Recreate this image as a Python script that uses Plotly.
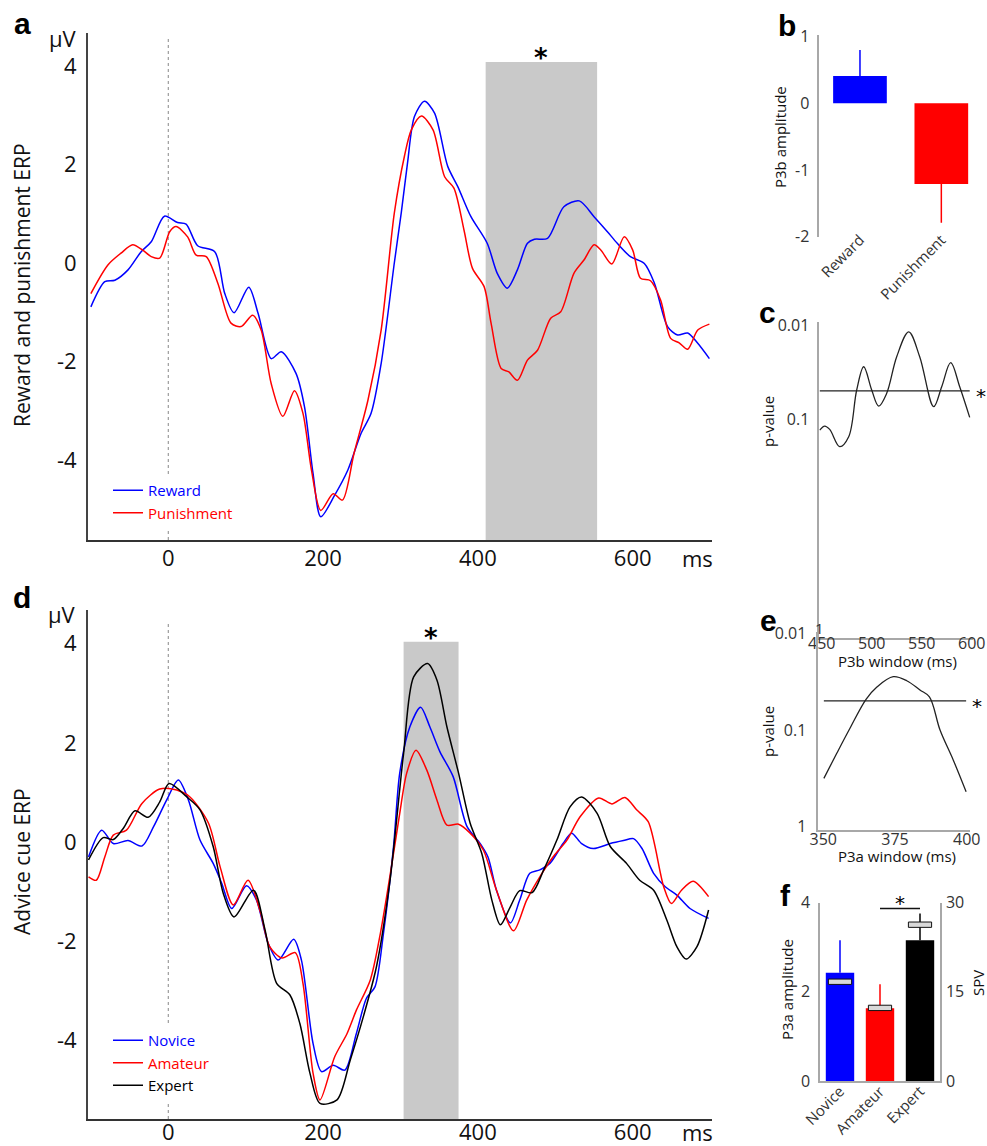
import plotly.graph_objects as go

W, H = 987, 1146
FONT = "Open Sans"

# ---------------- data ----------------
# Panel a: reward / punishment ERP (ms, µV)
reward_t = [-100, -82, -69, -52, -35, -22, -5, 12, 23, 38, 60, 73, 85, 104, 116, 133, 146, 165, 176, 187,
            197, 215, 232, 249, 262, 275, 292, 301, 309, 318, 331, 344, 361, 374, 391, 412, 425, 438, 451,
            464, 473, 490, 511, 531, 550, 567, 580, 597, 615, 628, 645, 658, 671, 684, 699]
reward_v = [-0.89, -0.38, -0.35, -0.14, 0.23, 0.43, 0.95, 0.82, 0.79, 0.35, 0.23, -0.62, -1.01, -0.49,
            -1.02, -1.94, -1.80, -2.24, -2.92, -4.27, -5.15, -4.71, -4.20, -3.46, -3.05, -2.04, 0.0, 1.02,
            2.02, 2.97, 3.28, 3.04, 1.96, 1.55, 0.94, 0.40, -0.21, -0.51, -0.14, 0.40, 0.48, 0.50, 1.14,
            1.26, 0.94, 0.64, 0.40, 0.13, -0.01, -0.41, -1.29, -1.46, -1.42, -1.63, -1.94]
punish_t = [-100, -78, -61, -46, -33, -22, -11, 2, 10, 25, 36, 49, 64, 81, 94, 109, 120, 133, 148, 163,
            174, 185, 197, 213, 225, 240, 258, 275, 292, 305, 314, 327, 342, 357, 369, 382, 393, 408, 417,
            430, 440, 451, 464, 477, 494, 507, 524, 537, 550, 559, 573, 589, 600, 610, 623, 636, 649, 660,
            671, 684, 699]
punish_v = [-0.62, -0.04, 0.20, 0.37, 0.26, 0.13, 0.10, 0.64, 0.74, 0.53, 0.16, 0.13, -0.41, -1.22, -1.29,
            -1.06, -1.36, -2.45, -3.11, -2.59, -3.05, -4.20, -5.02, -4.68, -4.81, -3.86, -2.78, -1.36, 1.01,
            2.16, 2.70, 2.98, 2.70, 1.75, 1.52, 0.67, -0.11, -0.48, -1.22, -2.14, -2.21, -2.38, -1.97, -1.77,
            -1.12, -0.99, -0.21, 0.06, 0.37, 0.26, -0.02, 0.53, 0.26, -0.31, -0.36, -0.75, -1.53, -1.62,
            -1.75, -1.36, -1.24]
P3B_WINDOW = [410, 554]
P3B_BOX_TOP = 4.08

# Panel b: P3b amplitude
b_cats = ["Reward", "Punishment"]
b_vals = [0.41, -1.21]
b_err = [0.39, 0.58]

# Panel c: p-value over P3b window
c_t = [448, 453, 458, 468, 477, 485, 492, 500, 507, 515, 525, 537, 548, 562, 570, 579, 588, 598]
c_p = [0.130, 0.118, 0.128, 0.195, 0.153, 0.0489, 0.0277, 0.0489, 0.0723, 0.0530, 0.0217, 0.0118,
       0.0217, 0.0735, 0.0451, 0.0251, 0.0451, 0.0953]
ALPHA = 0.05

# Panel d: advice cue ERP
novice_t = [-103, -86, -71, -52, -34, -19, -2, 13, 26, 41, 58, 69, 82, 101, 114, 129, 142, 162, 172, 187,
            198, 213, 228, 243, 256, 267, 278, 291, 299, 312, 326, 338, 351, 368, 386, 403, 413, 424, 442,
            454, 467, 480, 493, 510, 521, 534, 549, 571, 588, 601, 612, 627, 642, 657, 674, 698]
novice_v = [-0.30, 0.24, -0.03, 0.03, -0.08, 0.31, 0.85, 1.25, 0.85, 0.04, -0.43, -0.83, -1.34, -0.88,
            -1.17, -2.04, -2.38, -1.96, -2.38, -4.06, -4.63, -4.50, -4.60, -3.86, -3.15, -2.92, -1.84,
            -0.09, 1.39, 2.32, 2.72, 2.32, 1.82, 1.32, 0.31, -0.03, -0.30, -0.97, -1.63, -1.17, -0.63,
            -0.56, -0.43, -0.03, 0.18, -0.03, -0.13, -0.03, 0.03, 0.07, -0.13, -0.63, -0.90, -1.07, -1.34,
            -1.54]
amateur_t = [-103, -93, -82, -71, -54, -34, -11, 11, 28, 52, 67, 84, 103, 119, 131, 147, 164, 174, 187,
             196, 215, 231, 243, 261, 274, 291, 299, 308, 320, 334, 347, 360, 375, 390, 407, 424, 446, 463,
             480, 497, 515, 532, 556, 573, 590, 605, 620, 640, 650, 663, 678, 698]
amateur_v = [-0.70, -0.77, -0.30, 0.14, 0.24, 0.78, 1.07, 1.05, 0.91, 0.38, -0.50, -1.27, -0.77, -1.41,
             -2.11, -2.34, -2.23, -2.85, -4.66, -5.20, -4.33, -3.86, -3.39, -2.78, -1.84, -0.23, 0.58,
             1.39, 1.85, 1.45, 0.85, 0.34, 0.36, 0.18, -0.16, -0.97, -1.79, -1.17, -0.70, -0.30, 0.04,
             0.51, 0.89, 0.77, 0.90, 0.65, 0.41, -0.90, -1.24, -0.97, -0.79, -1.10]
expert_t = [-103, -84, -71, -58, -43, -26, -11, 1, 24, 41, 58, 71, 85, 110, 125, 140, 157, 170, 183, 196,
            218, 235, 252, 269, 286, 304, 317, 335, 347, 360, 375, 390, 405, 418, 429, 442, 454, 470, 485,
            502, 519, 534, 554, 571, 592, 609, 627, 644, 657, 669, 683, 698]
expert_v = [-0.36, 0.09, 0.05, 0.28, 0.63, 0.50, 0.81, 1.18, 0.91, 0.65, -0.09, -1.03, -1.51, -0.97,
            -1.77, -2.85, -3.08, -3.66, -4.66, -5.27, -5.20, -4.40, -3.52, -2.51, -0.83, 1.79, 3.33, 3.60,
            3.27, 2.32, 1.39, 0.38, -0.23, -1.17, -1.67, -1.30, -0.98, -1.02, -0.56, 0.04, 0.71, 0.91,
            0.58, -0.09, -0.43, -0.77, -0.97, -1.57, -2.11, -2.36, -2.11, -1.37]
P3A_WINDOW = [304, 375]
P3A_BOX_TOP = 4.04

# Panel e: p-value over P3a window
e_t = [350.2, 354.7, 359.3, 364.9, 368.6, 374.4, 379.1, 383.7, 387.0, 390.7, 395.3, 399.8]
e_p = [0.316, 0.174, 0.0959, 0.0481, 0.0361, 0.0281, 0.0309, 0.0385, 0.0453, 0.100, 0.204, 0.435]

# Panel f: P3a amplitude and SPV
f_cats = ["Novice", "Amateur", "Expert"]
f_amp = [2.43, 1.63, 3.16]
f_err = [0.73, 0.54, 0.60]
f_spv = [16.7, 12.3, 26.3]
F_SIG_Y = 3.87

ERP_TICKS = [-4, -2, 0, 2, 4]
ERP_TICKTEXT = ["-4", "-2", "0", "2", "4"]

BLUE, RED, BLACK = "#0000ff", "#ff0000", "#000000"
GRAY_BOX = "#c9c9c9"


def fx(p):
    return p / W


def fy(p):
    return 1 - p / H


def legend_name(txt, col):
    return f'<span style="color:{col}">{txt}</span>'


fig = go.Figure()

# ---- panel a traces ----
fig.add_trace(go.Scatter(x=reward_t, y=reward_v, mode="lines", name=legend_name("Reward", BLUE),
                         line=dict(color=BLUE, width=1.5, shape="spline", smoothing=0.8),
                         xaxis="x", yaxis="y", legend="legend"))
fig.add_trace(go.Scatter(x=punish_t, y=punish_v, mode="lines", name=legend_name("Punishment", RED),
                         line=dict(color=RED, width=1.5, shape="spline", smoothing=0.8),
                         xaxis="x", yaxis="y", legend="legend"))

# ---- panel d traces ----
for t, v, nm, col in [(novice_t, novice_v, "Novice", BLUE), (amateur_t, amateur_v, "Amateur", RED),
                      (expert_t, expert_v, "Expert", BLACK)]:
    fig.add_trace(go.Scatter(x=t, y=v, mode="lines", name=legend_name(nm, col),
                             line=dict(color=col, width=1.5, shape="spline", smoothing=0.8),
                             xaxis="x4", yaxis="y4", legend="legend2"))

# ---- panel b bars ----
for cat, val, err, col in zip(b_cats, b_vals, b_err, [BLUE, RED]):
    up = err if val >= 0 else 0
    dn = err if val < 0 else 0
    fig.add_trace(go.Bar(x=[cat], y=[val], width=0.66, marker=dict(color=col, line=dict(width=0)),
                         error_y=dict(type="data", symmetric=False, array=[up], arrayminus=[dn],
                                      color=col, thickness=1.5, width=0),
                         xaxis="x2", yaxis="y2", showlegend=False))

# ---- panel c ----
fig.add_trace(go.Scatter(x=c_t, y=c_p, mode="lines", line=dict(color="#222", width=1.3, shape="spline"),
                         xaxis="x3", yaxis="y3", showlegend=False))
fig.add_trace(go.Scatter(x=[c_t[0], c_t[-1]], y=[ALPHA, ALPHA], mode="lines",
                         line=dict(color="#222", width=1.2), xaxis="x3", yaxis="y3", showlegend=False))

# ---- panel e ----
fig.add_trace(go.Scatter(x=e_t, y=e_p, mode="lines", line=dict(color="#222", width=1.3, shape="spline"),
                         xaxis="x5", yaxis="y5", showlegend=False))
fig.add_trace(go.Scatter(x=[e_t[0], e_t[-1]], y=[ALPHA, ALPHA], mode="lines",
                         line=dict(color="#222", width=1.2), xaxis="x5", yaxis="y5", showlegend=False))

# ---- panel f ----
for i, (amp, err, col) in enumerate(zip(f_amp, f_err, [BLUE, RED, BLACK])):
    fig.add_trace(go.Bar(x=[i], y=[amp], width=0.71, marker=dict(color=col, line=dict(width=0)),
                         error_y=dict(type="data", symmetric=False, array=[err], arrayminus=[0],
                                      color=col, thickness=1.5, width=0),
                         xaxis="x6", yaxis="y6", showlegend=False))
SPV_H = 0.9
fig.add_trace(go.Bar(x=list(range(len(f_spv))), y=[SPV_H] * len(f_spv), base=[s - SPV_H / 2 for s in f_spv],
                     width=0.58, marker=dict(color="#d9d9d9", line=dict(color="#111", width=1)),
                     xaxis="x6", yaxis="y7", showlegend=False))

# ---------------- layout ----------------
tick_big = dict(family=FONT, size=22, color="#111")
tick_small = dict(family=FONT, size=16, color="#333")
GRAYAX = "#a8a8a8"

A_Y = [-5.62, 4.66]
D_Y = [-5.585, 4.68]
X_RANGE = [-103.7, 702.4]

common = dict(automargin=False, showgrid=False, zeroline=False, ticks="")

layout = dict(
    template="none",
    width=W, height=H, margin=dict(l=0, r=0, t=0, b=0, pad=0),
    paper_bgcolor="white", plot_bgcolor="rgba(0,0,0,0)",
    barmode="overlay", font=dict(family=FONT, color="#111"), showlegend=True,
    # panel a
    xaxis=dict(common, domain=[fx(88), fx(712)], range=X_RANGE, anchor="y", showline=True, linecolor="#333",
               linewidth=1.5, tickvals=[0, 200, 400, 600], tickfont=tick_big, ticklabelstandoff=-2),
    yaxis=dict(common, domain=[fy(540), fy(33.3)], range=A_Y, anchor="x", showline=True, linecolor="#444",
               linewidth=2, tickvals=ERP_TICKS, ticktext=ERP_TICKTEXT, tickfont=tick_big,
               ticklabelstandoff=5),
    # panel b
    xaxis2=dict(common, domain=[fx(819.3), fx(982)], anchor="y2", type="category", categoryarray=b_cats,
                range=[-0.5, 1.5], showline=False, tickangle=-45, ticklabelstandoff=-10,
                tickfont=dict(family=FONT, size=15, color="#333")),
    yaxis2=dict(common, domain=[fy(237.3), fy(35)], range=[-2.01, 1.024], anchor="x2", showline=True,
                linecolor=GRAYAX, linewidth=1.5, tickvals=[-2, -1, 0, 1], ticktext=["-2", "-1", "0", "1"],
                tickfont=tick_small, ticklabelstandoff=5),
    # panel c
    xaxis3=dict(common, domain=[fx(819.3), fx(973)], range=[447.6, 601.3], anchor="y3", showline=True,
                linecolor=GRAYAX, linewidth=1.5, tickvals=[450, 500, 550, 600], tickfont=tick_small,
                ticklabelstandoff=-10),
    yaxis3=dict(common, domain=[fy(638.3), fy(321.7)], type="log", range=[1.322, -2.035], anchor="x3",
                showline=True, linecolor=GRAYAX, linewidth=1.5, tickvals=[0.01, 0.1],
                ticktext=["0.01", "0.1"], tickfont=tick_small, ticklabelstandoff=5),
    # panel d
    xaxis4=dict(common, domain=[fx(88), fx(712)], range=X_RANGE, anchor="y4", showline=True, linecolor="#333",
                linewidth=1.5, tickvals=[0, 200, 400, 600], tickfont=tick_big, ticklabelstandoff=-7),
    yaxis4=dict(common, domain=[fy(1119), fy(610)], range=D_Y, anchor="x4", showline=True, linecolor="#444",
                linewidth=2, tickvals=ERP_TICKS, ticktext=ERP_TICKTEXT, tickfont=tick_big,
                ticklabelstandoff=5),
    # panel e
    xaxis5=dict(common, domain=[fx(818.3), fx(970)], range=[348.26, 401.15], anchor="y5", showline=True,
                linecolor=GRAYAX, linewidth=1.5, tickvals=[350, 375, 400], tickfont=tick_small,
                ticklabelstandoff=-6),
    yaxis5=dict(common, domain=[fy(830), fy(631.7)], type="log", range=[0.034, -2.017], anchor="x5",
                showline=True, linecolor=GRAYAX, linewidth=1.5, tickvals=[0.01, 0.1, 1],
                ticktext=["0.01", "0.1", "1"], tickfont=tick_small, ticklabelstandoff=7),
    # panel f
    xaxis6=dict(common, domain=[fx(820), fx(940)], range=[-0.5, 2.5], anchor="y6", showline=True,
                linecolor=GRAYAX, linewidth=1.5, tickvals=[0, 1, 2], ticktext=f_cats, tickangle=-45,
                ticklabelstandoff=-6, tickfont=dict(family=FONT, size=15, color="#333")),
    yaxis6=dict(common, domain=[fy(1081), fy(902.7)], range=[0, 4], anchor="x6", showline=True,
                linecolor=GRAYAX, linewidth=1.5, tickvals=[0, 2, 4], tickfont=tick_small,
                ticklabelstandoff=5),
    yaxis7=dict(common, range=[0, 30], overlaying="y6", side="right", anchor="x6", showline=True,
                linecolor=GRAYAX, linewidth=1.5, tickvals=[0, 15, 30], tickfont=tick_small,
                ticklabelstandoff=1),
    legend=dict(x=fx(108), y=fy(474), xanchor="left", yanchor="top", bgcolor="white",
                font=dict(family=FONT, size=15), tracegroupgap=0, itemwidth=30, borderwidth=0),
    legend2=dict(x=fx(108), y=fy(1024), xanchor="left", yanchor="top", bgcolor="white",
                 font=dict(family=FONT, size=15), tracegroupgap=0, itemwidth=30, borderwidth=0),
)
fig.update_layout(**layout)

# shapes: significant windows and stimulus onset
shapes = [
    dict(type="rect", xref="x", yref="y", x0=P3B_WINDOW[0], x1=P3B_WINDOW[1], y0=A_Y[0], y1=P3B_BOX_TOP,
         fillcolor=GRAY_BOX, line=dict(width=0), layer="below"),
    dict(type="line", xref="x", yref="y", x0=0, x1=0, y0=A_Y[0], y1=4.57,
         line=dict(color="#888", width=1, dash="dot"), layer="below"),
    dict(type="rect", xref="x4", yref="y4", x0=P3A_WINDOW[0], x1=P3A_WINDOW[1], y0=D_Y[0],
         y1=P3A_BOX_TOP, fillcolor=GRAY_BOX, line=dict(width=0), layer="below"),
    dict(type="line", xref="x4", yref="y4", x0=0, x1=0, y0=D_Y[0], y1=4.44,
         line=dict(color="#888", width=1, dash="dot"), layer="below"),
    dict(type="line", xref="x6", yref="y6", x0=1, x1=2, y0=F_SIG_Y, y1=F_SIG_Y,
         line=dict(color="#111", width=1.5)),
]
fig.update_layout(shapes=shapes)

ann = []


def text(x, y, s, size, angle=0, bold=False, family=FONT, color="#111", xanchor="center"):
    ann.append(dict(x=fx(x), y=fy(y), xref="paper", yref="paper", text=f"<b>{s}</b>" if bold else s,
                    showarrow=False, textangle=angle, xanchor=xanchor, yanchor="middle",
                    font=dict(family=family, size=size, color=color)))


for letter, (x, y) in {"a": (22, 23), "b": (787, 25), "c": (767, 313), "d": (22, 597), "e": (768, 620),
                       "f": (785, 895)}.items():
    text(x, y, letter, 30, bold=True, family="Liberation Sans", color="#000")
text(63, 38, "µV", 22)
text(62, 614, "µV", 22)
text(697, 558, "ms", 22)
text(697, 1132, "ms", 22)
text(22, 285, "Reward and punishment ERP", 21, angle=-90)
text(22, 862, "Advice cue ERP", 21, angle=-90)
text(780, 137, "P3b amplitude", 15, angle=-90)
text(768, 422, "p-value", 15, angle=-90)
text(897, 661, "P3b window (ms)", 15)
text(768, 732, "p-value", 15, angle=-90)
text(897, 856, "P3a window (ms)", 15)
text(787, 990, "P3a amplitude", 15, angle=-90)
text(978, 983, "SPV", 15, angle=-90)
# bottom label of the p-value axis in panel c sits at the axis corner in the reference
text(819, 628, "1", 15, color="#333")

# asterisks
star = dict(family="DejaVu Sans", size=26, color="#000")
ann.append(dict(x=sum(P3B_WINDOW) / 2, y=P3B_BOX_TOP, xref="x", yref="y", text="<b>*</b>", showarrow=False,
                yanchor="middle", yshift=4, font=star))
ann.append(dict(x=sum(P3A_WINDOW) / 2, y=P3A_BOX_TOP, xref="x4", yref="y4", text="<b>*</b>", showarrow=False,
                yanchor="middle", yshift=4, font=star))
ann.append(dict(x=c_t[-1], y=-1.301, xref="x3", yref="y3", text="*", showarrow=False, xanchor="left",
                yanchor="middle", xshift=4, yshift=-5, font=dict(family="DejaVu Sans", size=20, color="#000")))
ann.append(dict(x=e_t[-1], y=-1.301, xref="x5", yref="y5", text="*", showarrow=False, xanchor="left",
                yanchor="middle", xshift=4, yshift=-5, font=dict(family="DejaVu Sans", size=20, color="#000")))
ann.append(dict(x=1.5, y=F_SIG_Y, xref="x6", yref="y6", text="*", showarrow=False, yanchor="middle",
                yshift=5, font=dict(family="DejaVu Sans", size=20, color="#000")))
fig.update_layout(annotations=ann)

fig.write_html("out.html")
